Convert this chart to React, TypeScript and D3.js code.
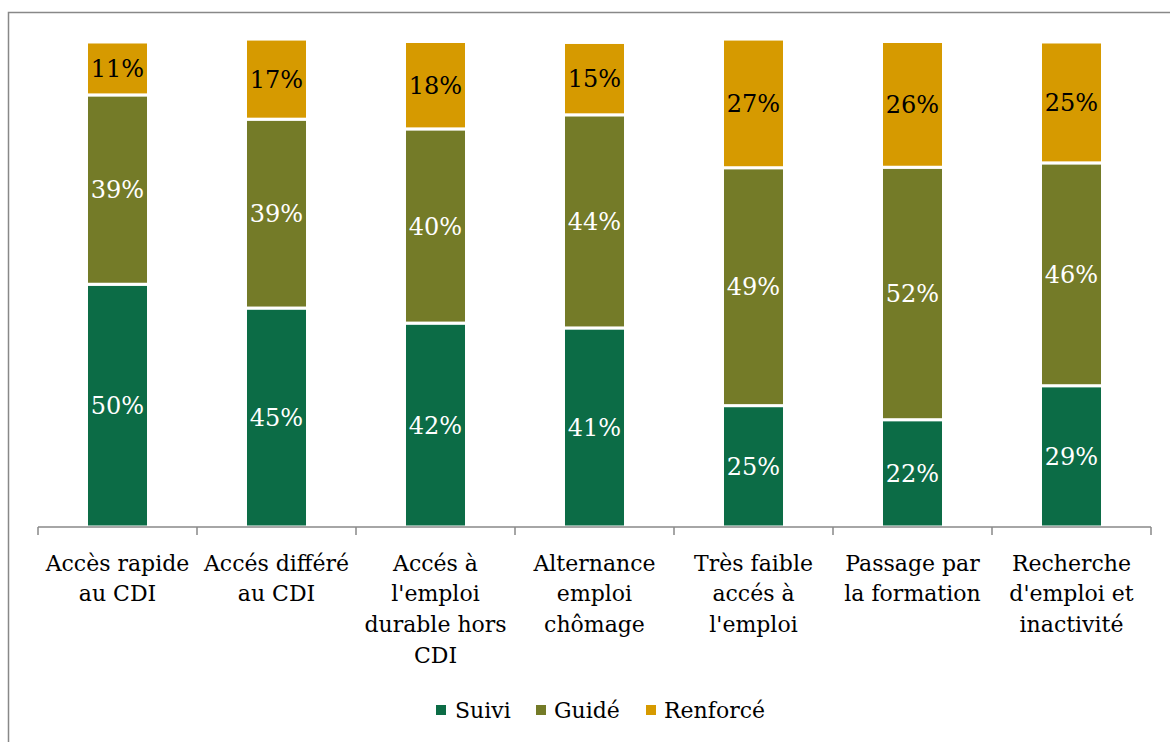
import React from "react";
import * as d3 from "d3";

const categories: string[][] = [
  ["Accès rapide", "au CDI"],
  ["Accés différé", "au CDI"],
  ["Accés à", "l'emploi", "durable hors", "CDI"],
  ["Alternance", "emploi", "chômage"],
  ["Très faible", "accés à", "l'emploi"],
  ["Passage par", "la formation"],
  ["Recherche", "d'emploi et", "inactivité"],
];
const seriesNames = ["Suivi", "Guidé", "Renforcé"];
const suivi = [50.0, 45.1, 42.0, 41.0, 25.0, 22.1, 29.1];
const guide = [39.0, 38.9, 40.0, 43.9, 49.0, 52.0, 45.9];
const renforce = [10.9, 16.5, 18.0, 14.9, 26.5, 25.9, 24.9];
const colors = ["#0c6c46", "#747b28", "#d69a00"];
const labelColors = ["#ffffff", "#ffffff", "#000000"];

const W = 1170;
const H = 742;
const FONT = "'DejaVu Serif', serif";

export default function App() {
  const keys = categories.map((_, i) => String(i));
  const x = d3.scaleBand<string>().domain(keys).range([38, 1151]).paddingInner(0.61).paddingOuter(0.305);
  const y = d3.scaleLinear().domain([0, 100]).range([527, 41.5]);
  const rows = categories.map((_, i) => ({ key: String(i), s0: suivi[i], s1: guide[i], s2: renforce[i] }));
  const stack = d3.stack<any>().keys(["s0", "s1", "s2"]);
  const series = stack(rows);
  const step = x.step();
  const tickXs = d3.range(categories.length + 1).map((i) => 38 + i * step);

  const legendItems = [
    { name: seriesNames[0], sx: 436, tx: 455 },
    { name: seriesNames[1], sx: 536, tx: 554 },
    { name: seriesNames[2], sx: 646, tx: 664 },
  ];

  return (
    <svg width={W} height={H} style={{ position: "absolute", left: 0, top: 0, background: "#fff" }} fontFamily={FONT}>
      <rect x={8.5} y={12.5} width={1300} height={900} fill="#fff" stroke="#888" strokeWidth={1.5} />
      {series.map((s, si) => (
        <g key={si}>
          {s.map((d: any, i: number) => {
            const x0 = x(String(i))!;
            const top = y(d[1]);
            const bot = y(d[0]);
            return (
              <g key={i}>
                <rect x={x0} y={top} width={x.bandwidth()} height={bot - top} fill={colors[si]} stroke="#fff" strokeWidth={3} />
                <text
                  x={x0 + x.bandwidth() / 2}
                  y={(top + bot) / 2}
                  dy="0.36em"
                  textAnchor="middle"
                  fontSize={24}
                  fill={labelColors[si]}
                >
                  {Math.round(d[1] - d[0])}%
                </text>
              </g>
            );
          })}
        </g>
      ))}
      <line x1={38} x2={1151} y1={527} y2={527} stroke="#888" strokeWidth={1.5} />
      {tickXs.map((tx, i) => (
        <line key={i} x1={tx} x2={tx} y1={527} y2={535} stroke="#888" strokeWidth={1.5} />
      ))}
      {categories.map((lines, i) => (
        <text key={i} textAnchor="middle" fontSize={22} fill="#000">
          {lines.map((l, j) => (
            <tspan key={j} x={x(String(i))! + x.bandwidth() / 2} y={570.5 + j * 30.8}>
              {l}
            </tspan>
          ))}
        </text>
      ))}
      {legendItems.map((it, i) => (
        <g key={i}>
          <rect x={it.sx} y={705} width={10} height={10} fill={colors[i]} />
          <text x={it.tx} y={718} fontSize={22} fill="#000">
            {it.name}
          </text>
        </g>
      ))}
    </svg>
  );
}
